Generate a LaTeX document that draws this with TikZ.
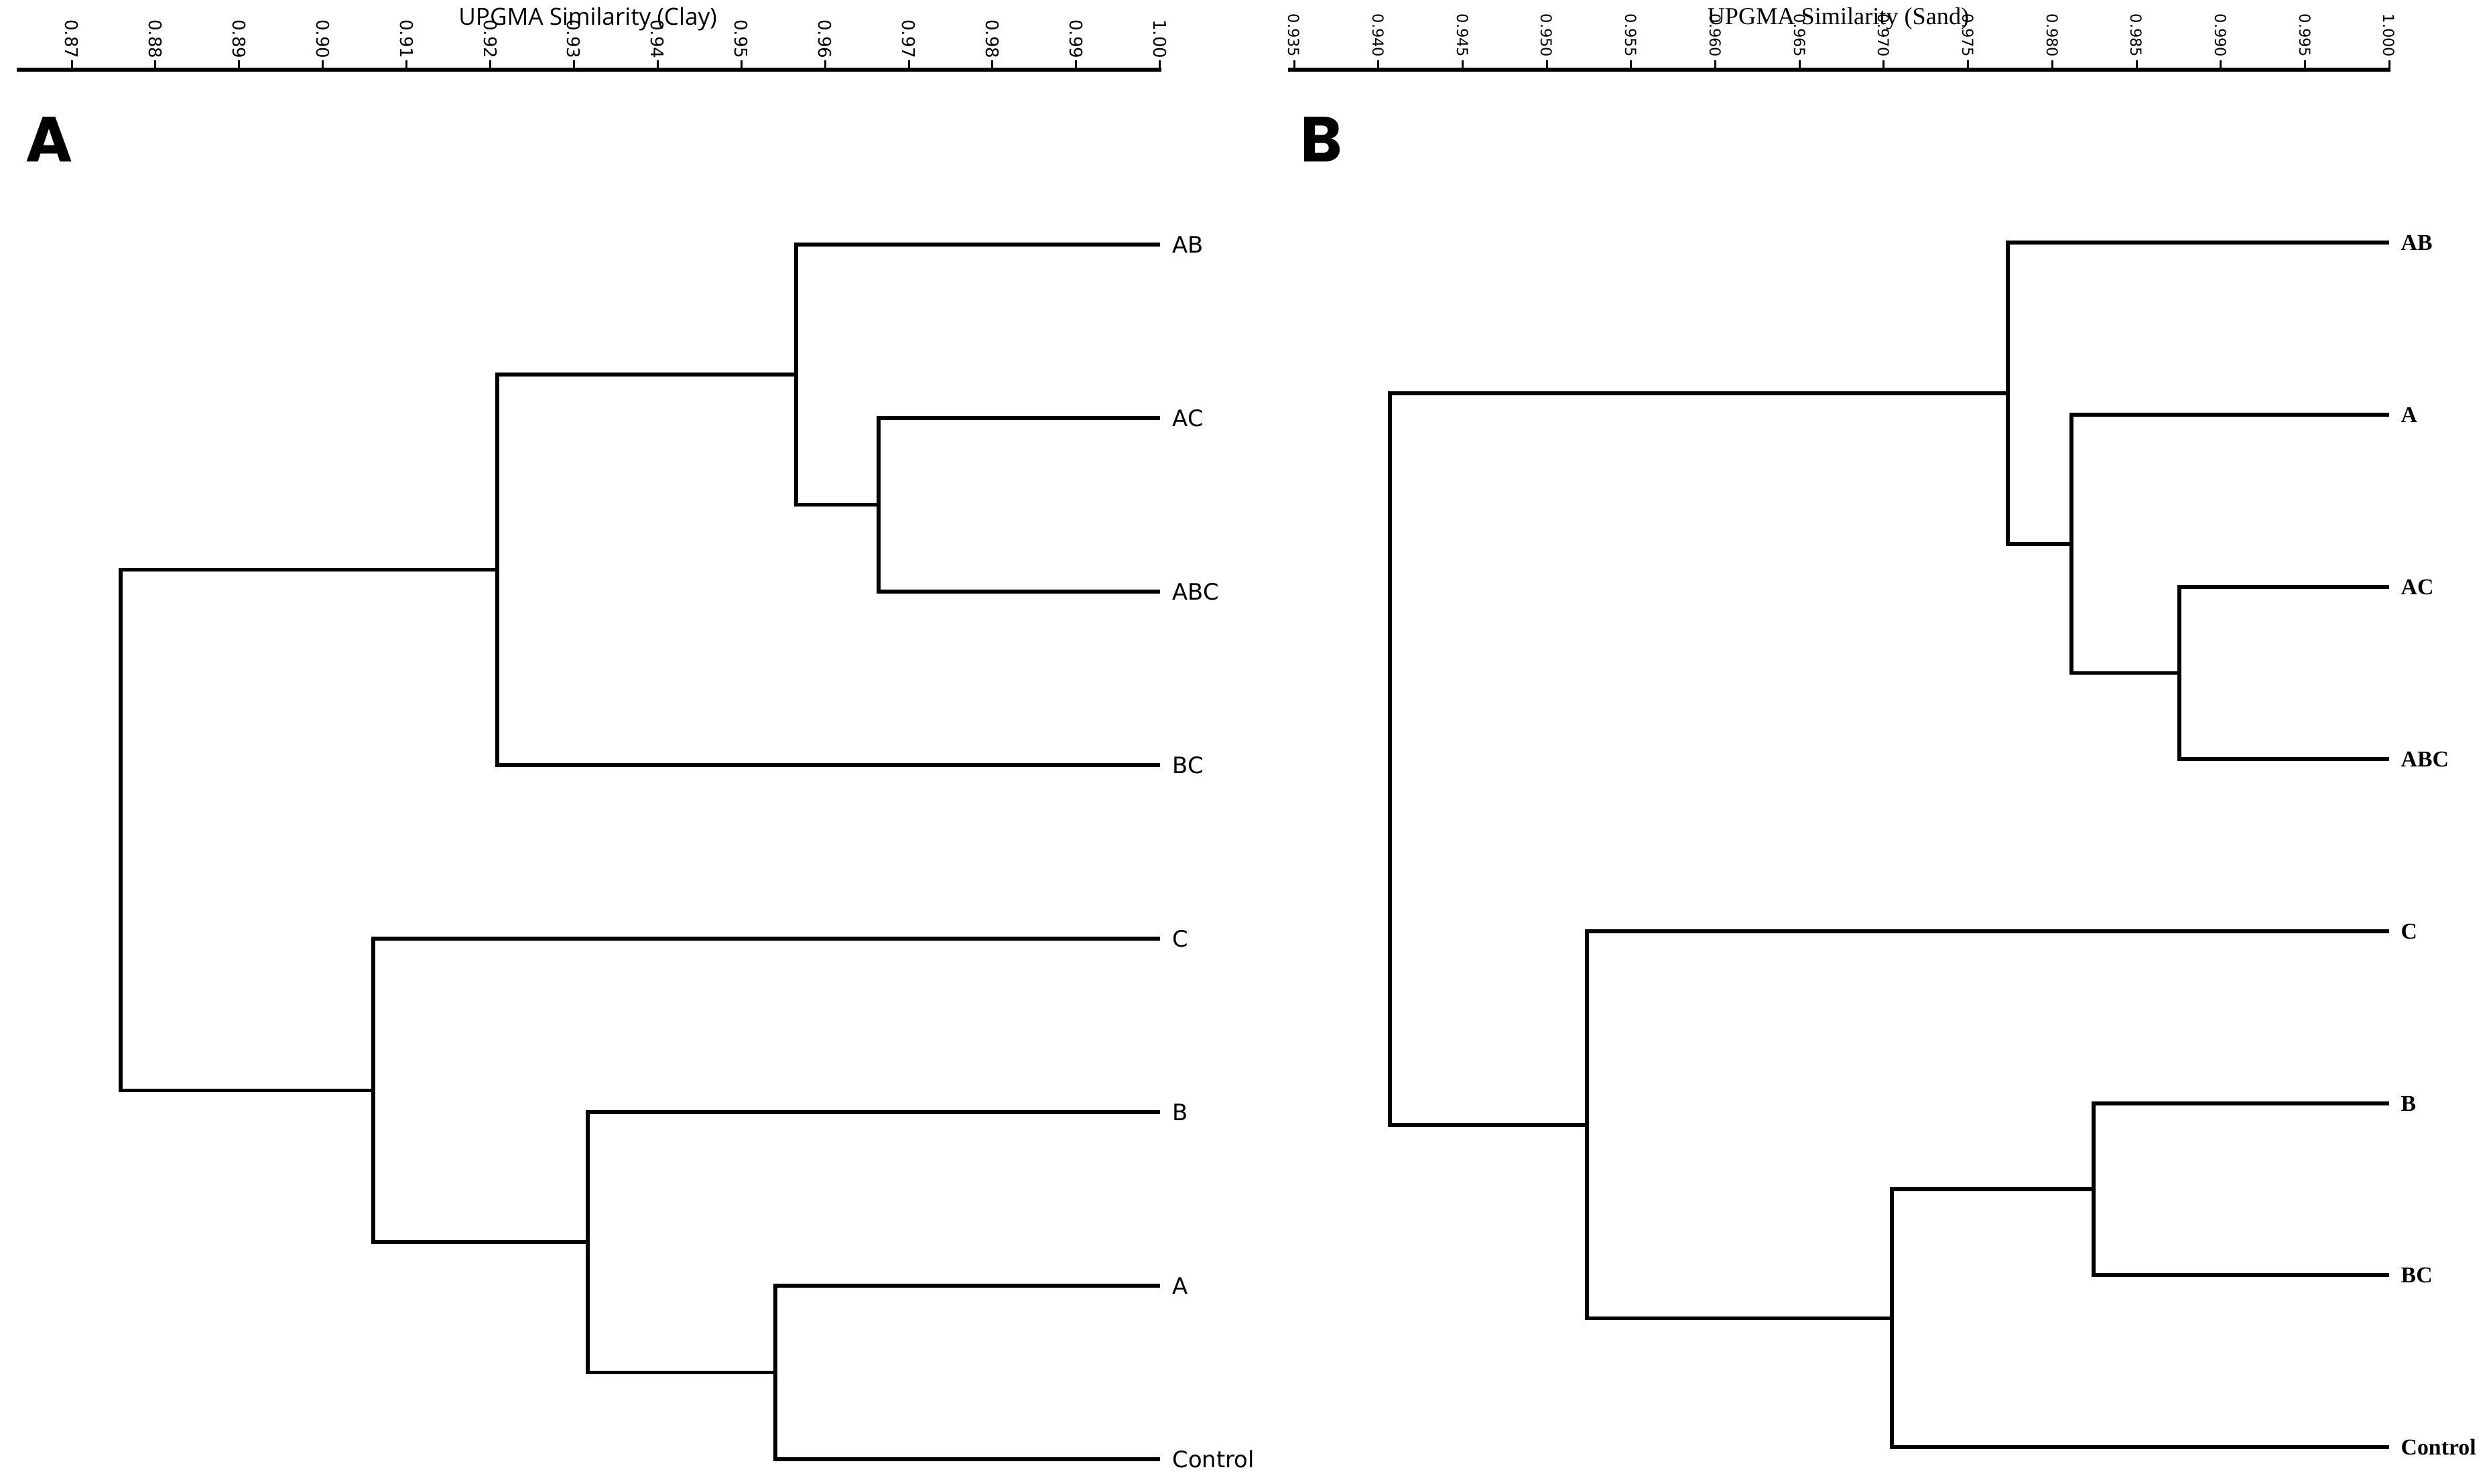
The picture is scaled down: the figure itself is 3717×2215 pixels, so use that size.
\documentclass[tikz,border=0pt]{standalone}
\usepackage{fontspec}
\setmainfont{DejaVu Sans}
\newfontfamily\titlefontA{Open Sans}
\newfontfamily\serifB{Liberation Serif}
\newfontfamily\letterfont{Poppins}
\tikzset{
  dend/.style={line width=0.055cm, line join=miter},
  axisline/.style={line width=0.055cm},
  tickmark/.style={line width=0.03cm},
  labA/.style={font=\fontsize{9.6}{11}\selectfont, anchor=west, inner sep=0pt},
  labB/.style={font=\serifB\bfseries\fontsize{9.6}{11}\selectfont, anchor=west, inner sep=0pt},
  tickA/.style={font=\fontsize{7.4}{8}\selectfont, rotate=-90, anchor=east, inner sep=0pt},
  tickB/.style={font=\fontsize{6.4}{7}\selectfont, rotate=-90, anchor=east, inner sep=0pt},
  panel/.style={font=\letterfont\bfseries\fontsize{27}{32}\selectfont, inner sep=0pt},
}
\begin{document}
\begin{tikzpicture}[x=0.01cm, y=-0.01cm]
\useasboundingbox (0,0) rectangle (3717,2215);

% ---------------- Panel A axis ----------------
\node[font=\titlefontA\fontsize{10}{12}\selectfont, inner sep=0pt] (titleA) at (877,28) {UPGMA Similarity (Clay)};
\coordinate (axAl) at (25,104);
\coordinate (axAr) at (1733,104);
\draw[axisline] (axAl) -- (axAr);
\foreach \k/\t in {0/0.87,1/0.88,2/0.89,3/0.90,4/0.91,5/0.92,6/0.93,7/0.94,8/0.95,9/0.96,10/0.97,11/0.98,12/0.99,13/1.00}{
  \pgfmathsetmacro{\xx}{107+\k*124.9}
  \coordinate (tka\k) at (\xx,104);
  \draw[tickmark] (tka\k) -- ++(0,-14);
  \node[tickA] (tla\k) at (\xx,88) {\t};
}
\node[panel] (panelA) at (73,208) {A};

% ---------------- Panel A dendrogram ----------------
\coordinate (aAB) at (1731,365);
\coordinate (aAC) at (1731,624);
\coordinate (aABC) at (1731,883);
\coordinate (aBC) at (1731,1142);
\coordinate (aC) at (1731,1401);
\coordinate (aB) at (1731,1660);
\coordinate (aA) at (1731,1919);
\coordinate (aCtrl) at (1731,2178);

\coordinate (an1) at (1311,753.5);
\coordinate (an2) at (1188,559);
\coordinate (an3) at (742,850.5);
\coordinate (an4) at (1157,2048.5);
\coordinate (an5) at (877,1854);
\coordinate (an6) at (557,1627.5);
\coordinate (aroot) at (180,1239);

\draw[dend] (aAC) -| (an1) |- (aABC);
\draw[dend] (aAB) -| (an2) |- (an1);
\draw[dend] (an2) -| (an3) |- (aBC);
\draw[dend] (aA) -| (an4) |- (aCtrl);
\draw[dend] (aB) -| (an5) |- (an4);
\draw[dend] (aC) -| (an6) |- (an5);
\draw[dend] (an3) -| (aroot) |- (an6);

\node[labA] (LaAB) at (1749,365) {AB};
\node[labA] (LaAC) at (1749,624) {AC};
\node[labA] (LaABC) at (1749,883) {ABC};
\node[labA] (LaBC) at (1749,1142) {BC};
\node[labA] (LaC) at (1749,1401) {C};
\node[labA] (LaB) at (1749,1660) {B};
\node[labA] (LaA) at (1749,1919) {A};
\node[labA] (LaCtrl) at (1749,2178) {Control};

% ---------------- Panel B axis ----------------
\node[font=\serifB\fontsize{10.3}{12}\selectfont, inner sep=0pt] (titleB) at (2743,28) {UPGMA Similarity (Sand)};
\coordinate (axBl) at (1922,104);
\coordinate (axBr) at (3567,104);
\draw[axisline] (axBl) -- (axBr);
\foreach \k/\t in {0/0.935,1/0.940,2/0.945,3/0.950,4/0.955,5/0.960,6/0.965,7/0.970,8/0.975,9/0.980,10/0.985,11/0.990,12/0.995,13/1.000}{
  \pgfmathsetmacro{\xx}{1931+\k*125.7}
  \coordinate (tkb\k) at (\xx,104);
  \draw[tickmark] (tkb\k) -- ++(0,-14);
  \node[tickB] (tlb\k) at (\xx,86) {\t};
}
\node[panel] (panelB) at (1972,208) {B};

% ---------------- Panel B dendrogram ----------------
\coordinate (bAB) at (3565,362);
\coordinate (bA) at (3565,619);
\coordinate (bAC) at (3565,876);
\coordinate (bABC) at (3565,1133);
\coordinate (bC) at (3565,1390);
\coordinate (bB) at (3565,1647);
\coordinate (bBC) at (3565,1903);
\coordinate (bCtrl) at (3565,2160);

\coordinate (bn1) at (3252,1004.5);
\coordinate (bn2) at (3091,811.75);
\coordinate (bn3) at (2996,586.9);
\coordinate (bn4) at (3124,1775);
\coordinate (bn5) at (2823,1967.5);
\coordinate (bn6) at (2368,1678.75);
\coordinate (broot) at (2074,1132.8);

\draw[dend] (bAC) -| (bn1) |- (bABC);
\draw[dend] (bA) -| (bn2) |- (bn1);
\draw[dend] (bAB) -| (bn3) |- (bn2);
\draw[dend] (bB) -| (bn4) |- (bBC);
\draw[dend] (bn4) -| (bn5) |- (bCtrl);
\draw[dend] (bC) -| (bn6) |- (bn5);
\draw[dend] (bn3) -| (broot) |- (bn6);

\node[labB] (LbAB) at (3582,362) {AB};
\node[labB] (LbA) at (3582,619) {A};
\node[labB] (LbAC) at (3582,876) {AC};
\node[labB] (LbABC) at (3582,1133) {ABC};
\node[labB] (LbC) at (3582,1390) {C};
\node[labB] (LbB) at (3582,1647) {B};
\node[labB] (LbBC) at (3582,1903) {BC};
\node[labB] (LbCtrl) at (3582,2160) {Control};
\end{tikzpicture}
\end{document}
